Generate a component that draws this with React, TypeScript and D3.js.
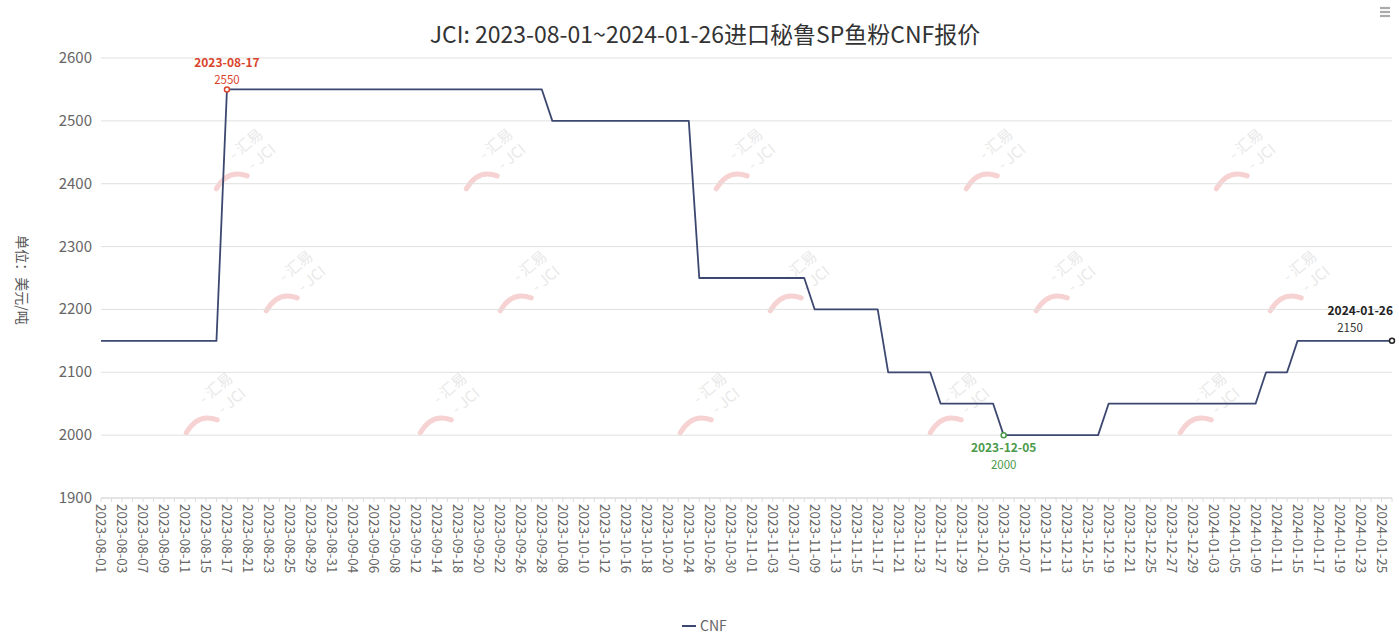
import React from 'react';
import { scalePoint, scaleLinear, line } from 'd3';

const dates: string[] = [
    '2023-08-01', '2023-08-02', '2023-08-03', '2023-08-04', '2023-08-07', '2023-08-08', '2023-08-09', '2023-08-10', '2023-08-11',
    '2023-08-14', '2023-08-15', '2023-08-16', '2023-08-17', '2023-08-18', '2023-08-21', '2023-08-22', '2023-08-23', '2023-08-24',
    '2023-08-25', '2023-08-28', '2023-08-29', '2023-08-30', '2023-08-31',
    '2023-09-01', '2023-09-04', '2023-09-05', '2023-09-06', '2023-09-07', '2023-09-08', '2023-09-11', '2023-09-12', '2023-09-13',
    '2023-09-14', '2023-09-15', '2023-09-18', '2023-09-19', '2023-09-20', '2023-09-21', '2023-09-22', '2023-09-25', '2023-09-26',
    '2023-09-27', '2023-09-28',
    '2023-10-07', '2023-10-08', '2023-10-09', '2023-10-10', '2023-10-11', '2023-10-12', '2023-10-13', '2023-10-16', '2023-10-17',
    '2023-10-18', '2023-10-19', '2023-10-20', '2023-10-23', '2023-10-24', '2023-10-25', '2023-10-26', '2023-10-27', '2023-10-30',
    '2023-10-31',
    '2023-11-01', '2023-11-02', '2023-11-03', '2023-11-06', '2023-11-07', '2023-11-08', '2023-11-09', '2023-11-10', '2023-11-13',
    '2023-11-14', '2023-11-15', '2023-11-16', '2023-11-17', '2023-11-20', '2023-11-21', '2023-11-22', '2023-11-23', '2023-11-24',
    '2023-11-27', '2023-11-28', '2023-11-29', '2023-11-30',
    '2023-12-01', '2023-12-04', '2023-12-05', '2023-12-06', '2023-12-07', '2023-12-08', '2023-12-11', '2023-12-12', '2023-12-13',
    '2023-12-14', '2023-12-15', '2023-12-18', '2023-12-19', '2023-12-20', '2023-12-21', '2023-12-22', '2023-12-25', '2023-12-26',
    '2023-12-27', '2023-12-28', '2023-12-29',
    '2024-01-02', '2024-01-03', '2024-01-04', '2024-01-05', '2024-01-08', '2024-01-09', '2024-01-10', '2024-01-11', '2024-01-12',
    '2024-01-15', '2024-01-16', '2024-01-17', '2024-01-18', '2024-01-19', '2024-01-22', '2024-01-23', '2024-01-24', '2024-01-25',
    '2024-01-26'
];

const cnf: number[] = [
    2150, 2150, 2150, 2150, 2150, 2150, 2150, 2150, 2150, 2150, 2150, 2150, 2550, 2550, 2550, 2550, 2550, 2550,
    2550, 2550, 2550, 2550, 2550,
    2550, 2550, 2550, 2550, 2550, 2550, 2550, 2550, 2550, 2550, 2550, 2550, 2550, 2550, 2550, 2550, 2550, 2550,
    2550, 2550,
    2500, 2500, 2500, 2500, 2500, 2500, 2500, 2500, 2500, 2500, 2500, 2500, 2500, 2500, 2250, 2250, 2250, 2250,
    2250,
    2250, 2250, 2250, 2250, 2250, 2250, 2200, 2200, 2200, 2200, 2200, 2200, 2200, 2100, 2100, 2100, 2100, 2100,
    2050, 2050, 2050, 2050,
    2050, 2050, 2000, 2000, 2000, 2000, 2000, 2000, 2000, 2000, 2000, 2000, 2050, 2050, 2050, 2050, 2050, 2050,
    2050, 2050, 2050,
    2050, 2050, 2050, 2050, 2050, 2050, 2100, 2100, 2100, 2150, 2150, 2150, 2150, 2150, 2150, 2150, 2150, 2150,
    2150
];

const yTicks: number[] = [1900, 2000, 2100, 2200, 2300, 2400, 2500, 2600];

const title = 'JCI: 2023-08-01~2024-01-26进口秘鲁SP鱼粉CNF报价';
const seriesName = 'CNF';
const yName = '单位：美元/吨';

// watermark placement (screen px)
const wmRows = [
    { y: 168, xs: [238, 488, 738, 988, 1238] },
    { y: 290, xs: [288, 522, 792, 1058, 1292] },
    { y: 412, xs: [208, 442, 702, 952, 1202] }
];

const App = () => {
    const width = 1399;
    const height = 635;
    const margin = { top: 58, right: 7, bottom: 137, left: 101 };
    const font = '"Noto Sans CJK SC", "Noto Sans", sans-serif';

    const x = scalePoint<string>().domain(dates).range([margin.left, width - margin.right]);
    const y = scaleLinear().domain([1900, 2600]).range([height - margin.bottom, margin.top]);

    const pts = dates.map((d, i) => ({ d, v: cnf[i] }));
    const path = line<{ d: string, v: number }>().x(p => x(p.d) as number).y(p => y(p.v))(pts);

    let maxI = 0, minI = 0;
    cnf.forEach((v, i) => { if (v > cnf[maxI]) maxI = i; if (v < cnf[minI]) minI = i; });
    const lastI = cnf.length - 1;

    const marks: JSX.Element[] = [];
    wmRows.forEach((r, ri) => {
        r.xs.forEach((wx, ci) => {
            marks.push(
                <g key={ri + '-' + ci} transform={`translate(${wx},${r.y}) rotate(-40)`}>
                    <path d="M-30,2 Q-8,-6 2,12" fill="none" stroke="#f7d2d2" strokeWidth={5} strokeLinecap="round" />
                    <text x={2} y={-8} fontSize={15} fill="#e9e9e9" fontFamily={font}>- 汇易</text>
                    <text x={10} y={12} fontSize={15} fill="#e9e9e9" fontFamily={font}>- JCI</text>
                </g>
            );
        });
    });

    return (
        <svg width={width} height={height} style={{ position: 'absolute', left: 0, top: 0, background: '#fff' }}>
            <text x={705} y={43} textAnchor="middle" fontSize={23} fill="#333" fontFamily={font}>{title}</text>
            <g fill="#aaa" stroke="#aaa" strokeWidth={2.2} transform="translate(1385,8)">
                <line x1={-5} x2={5} y1={0} y2={0} />
                <line x1={-5} x2={5} y1={4} y2={4} />
                <line x1={-5} x2={5} y1={8} y2={8} />
            </g>

            <g>{marks}</g>

            {yTicks.map(t => (
                <g key={t}>
                    <line x1={margin.left} x2={width - margin.right} y1={y(t)} y2={y(t)} stroke={t == 1900 ? '#c8c8c8' : '#e0e0e0'} strokeWidth={1} />
                    <text x={92} y={y(t) + 5} textAnchor="end" fontSize={15} fill="#666" fontFamily={font}>{t}</text>
                </g>
            ))}
            <text transform={`translate(17,${(margin.top + height - margin.bottom) / 2 + 2}) rotate(90)`} textAnchor="middle" fontSize={14} fill="#555" fontFamily={font}>{yName}</text>

            {dates.map((d, i) => (
                <g key={d}>
                    <line x1={x(d)} x2={x(d)} y1={y(1900)} y2={y(1900) + 4} stroke="#ddd" />
                    {i % 2 == 0 &&
                        <text transform={`translate(${(x(d) as number) - 5},${y(1900) + 6}) rotate(90)`} fontSize={13.5} fill="#666" fontFamily={font}>{d}</text>}
                </g>
            ))}

            <path d={path || ''} fill="none" stroke="#3d4870" strokeWidth={1.8} strokeLinejoin="round" />

            <circle cx={x(dates[maxI])} cy={y(cnf[maxI])} r={2.5} fill="#fff" stroke="#d9442c" strokeWidth={1.5} />
            <text x={x(dates[maxI])} y={y(cnf[maxI]) - 22} textAnchor="middle" fontSize={12} fontWeight="bold" fill="#d9442c" fontFamily={font}>{dates[maxI]}</text>
            <text x={x(dates[maxI])} y={y(cnf[maxI]) - 5} textAnchor="middle" fontSize={11.5} fill="#d9442c" fontFamily={font}>{cnf[maxI]}</text>

            <circle cx={x(dates[minI])} cy={y(cnf[minI])} r={2.5} fill="#fff" stroke="#4b9a4b" strokeWidth={1.5} />
            <text x={x(dates[minI])} y={y(cnf[minI]) + 17} textAnchor="middle" fontSize={12} fontWeight="bold" fill="#4b9a4b" fontFamily={font}>{dates[minI]}</text>
            <text x={x(dates[minI])} y={y(cnf[minI]) + 34} textAnchor="middle" fontSize={11.5} fill="#4b9a4b" fontFamily={font}>{cnf[minI]}</text>

            <circle cx={x(dates[lastI])} cy={y(cnf[lastI])} r={2.5} fill="#fff" stroke="#222" strokeWidth={1.5} />
            <text x={(x(dates[lastI]) as number) + 1} y={y(cnf[lastI]) - 26} textAnchor="end" fontSize={12} fontWeight="bold" fill="#222" fontFamily={font}>{dates[lastI]}</text>
            <text x={(x(dates[lastI]) as number) - 42} y={y(cnf[lastI]) - 9} textAnchor="middle" fontSize={11.5} fill="#333" fontFamily={font}>{cnf[lastI]}</text>

            <line x1={682} x2={696} y1={626} y2={626} stroke="#3d4870" strokeWidth={2} />
            <text x={700} y={631} fontSize={14} fill="#666" fontFamily={font}>{seriesName}</text>
        </svg>
    );
};

export default App;
